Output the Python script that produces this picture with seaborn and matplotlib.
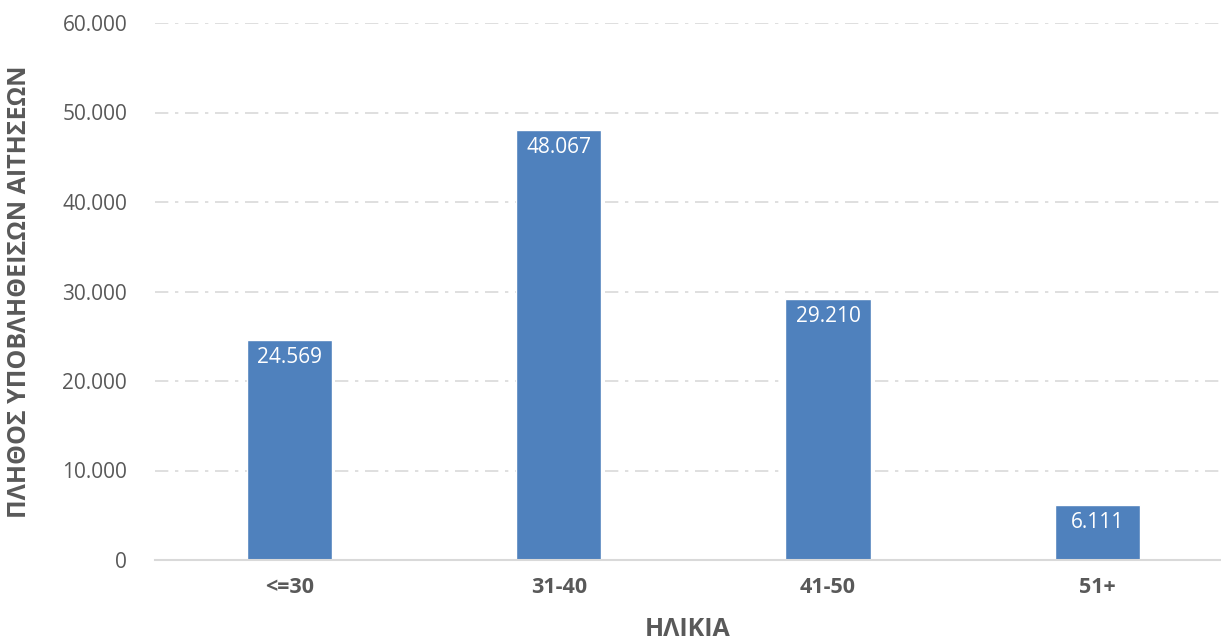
import numpy as np
import pandas as pd
import matplotlib
matplotlib.use("Agg")
import matplotlib.pyplot as plt
import seaborn as sns
from matplotlib.ticker import FuncFormatter

# data
age_groups = ["<=30", "31-40", "41-50", "51+"]
applications = [24569, 48067, 29210, 6111]

bar_color = "#4f81bd"
text_color = "#595959"
grid_color = "#d9d9d9"

sns.set_theme(style="white")
plt.rcParams['font.family'] = ['Open Sans', 'DejaVu Sans']

def dotted(v, pos=None):
    return f"{int(round(v)):,}".replace(",", ".")

df = pd.DataFrame({"age": age_groups, "n": applications})

fig = plt.figure(figsize=(12.21, 6.42), dpi=100)
ax = fig.add_axes([155/1221, 82/642, 1066/1221, 537/642])
sns.barplot(data=df, x="age", y="n", color=bar_color, saturation=1, width=0.316, ax=ax, zorder=3)

ax.set_ylim(0, 60000)
ax.set_xlim(-0.5, 3.46)
ax.set_yticks(np.arange(0, 60001, 10000))
ax.yaxis.set_major_formatter(FuncFormatter(dotted))
ax.grid(axis='y', color=grid_color, linestyle=(0, (8, 4, 2, 4)), linewidth=1.2, zorder=0)
ax.grid(axis='x', visible=False)
for s in ['top', 'right', 'left']:
    ax.spines[s].set_visible(False)
ax.spines['bottom'].set_color(grid_color)
ax.spines['bottom'].set_linewidth(1.5)
ax.spines['bottom'].set_zorder(4)
ax.tick_params(axis='y', length=0, labelsize=15, labelcolor=text_color, pad=20)
ax.tick_params(axis='x', length=0, labelsize=15.5, labelcolor=text_color, pad=12)
for lbl in ax.get_xticklabels():
    lbl.set_fontweight('bold')

ax.set_xlabel("ΗΛΙΚΙΑ", fontsize=18, fontweight='bold', color=text_color, labelpad=14)
ax.set_ylabel("ΠΛΗΘΟΣ ΥΠΟΒΛΗΘΕΙΣΩΝ ΑΙΤΗΣΕΩΝ", fontsize=18, fontweight='bold', color=text_color, labelpad=22)

for i, v in enumerate(applications):
    ax.annotate(dotted(v), (i, v), xytext=(0, -5), textcoords='offset points',
                ha='center', va='top', color='white', fontsize=15, zorder=5)

fig.savefig("out.png", dpi=100)
